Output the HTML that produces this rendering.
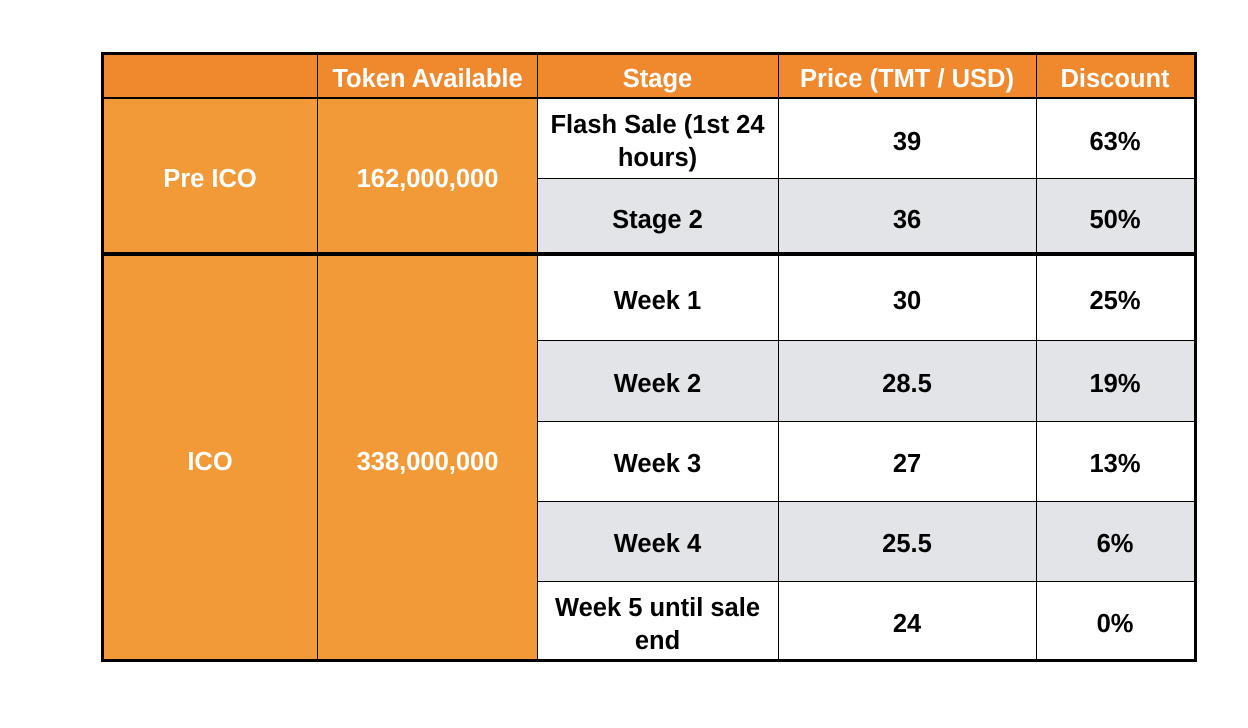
<!DOCTYPE html>
<html><head><meta charset="utf-8"><style>
body{margin:0;width:1248px;height:728px;background:#fff;position:relative;overflow:hidden;font-family:"Liberation Sans",Arial,sans-serif;font-weight:bold;font-size:25.5px}
.c{position:absolute;display:flex;align-items:center;justify-content:center;text-align:center;line-height:33px;color:#000;box-sizing:border-box;padding-top:7px}
.h{background:#F0892D;color:#fff}
.o{background:#F39A38;color:#fff}
.g{background:#E3E4E8}
.w{background:#fff}
.l{position:absolute;background:#000}
</style></head><body>
<div>
<div class="c h" style="left:102px;top:53px;width:216px;height:45px"></div>
<div class="c h" style="left:318px;top:53px;width:219px;height:45px">Token Available</div>
<div class="c h" style="left:537px;top:53px;width:241px;height:45px">Stage</div>
<div class="c h" style="left:778px;top:53px;width:258px;height:45px">Price (TMT / USD)</div>
<div class="c h" style="left:1036px;top:53px;width:158px;height:45px">Discount</div>
<div class="c o" style="left:102px;top:98px;width:216px;height:156px">Pre ICO</div>
<div class="c o" style="left:318px;top:98px;width:219px;height:156px">162,000,000</div>
<div class="c w" style="left:537px;top:98px;width:241px;height:81px">Flash Sale (1st 24<br>hours)</div>
<div class="c w" style="left:778px;top:98px;width:258px;height:81px">39</div>
<div class="c w" style="left:1036px;top:98px;width:158px;height:81px">63%</div>
<div class="c g" style="left:537px;top:179px;width:241px;height:75px">Stage 2</div>
<div class="c g" style="left:778px;top:179px;width:258px;height:75px">36</div>
<div class="c g" style="left:1036px;top:179px;width:158px;height:75px">50%</div>
<div class="c o" style="left:102px;top:256px;width:216px;height:405px">ICO</div>
<div class="c o" style="left:318px;top:256px;width:219px;height:405px">338,000,000</div>
<div class="c w" style="left:537px;top:256px;width:241px;height:84px">Week 1</div>
<div class="c w" style="left:778px;top:256px;width:258px;height:84px">30</div>
<div class="c w" style="left:1036px;top:256px;width:158px;height:84px">25%</div>
<div class="c g" style="left:537px;top:340px;width:241px;height:81px">Week 2</div>
<div class="c g" style="left:778px;top:340px;width:258px;height:81px">28.5</div>
<div class="c g" style="left:1036px;top:340px;width:158px;height:81px">19%</div>
<div class="c w" style="left:537px;top:421px;width:241px;height:80px">Week 3</div>
<div class="c w" style="left:778px;top:421px;width:258px;height:80px">27</div>
<div class="c w" style="left:1036px;top:421px;width:158px;height:80px">13%</div>
<div class="c g" style="left:537px;top:501px;width:241px;height:80px">Week 4</div>
<div class="c g" style="left:778px;top:501px;width:258px;height:80px">25.5</div>
<div class="c g" style="left:1036px;top:501px;width:158px;height:80px">6%</div>
<div class="c w" style="left:537px;top:581px;width:241px;height:80px">Week 5 until sale<br>end</div>
<div class="c w" style="left:778px;top:581px;width:258px;height:80px">24</div>
<div class="c w" style="left:1036px;top:581px;width:158px;height:80px">0%</div>
<div class="l" style="left:317px;top:53px;width:1px;height:608px"></div>
<div class="l" style="left:537px;top:53px;width:1px;height:608px"></div>
<div class="l" style="left:778px;top:53px;width:1px;height:608px"></div>
<div class="l" style="left:1036px;top:53px;width:1px;height:608px"></div>
<div class="l" style="left:102px;top:97px;width:1092px;height:2px"></div>
<div class="l" style="left:537px;top:178px;width:657px;height:1px"></div>
<div class="l" style="left:102px;top:252px;width:1092px;height:4px"></div>
<div class="l" style="left:537px;top:340px;width:657px;height:1px"></div>
<div class="l" style="left:537px;top:421px;width:657px;height:1px"></div>
<div class="l" style="left:537px;top:501px;width:657px;height:1px"></div>
<div class="l" style="left:537px;top:581px;width:657px;height:1px"></div>
<div style="position:absolute;left:101px;top:52px;width:1090px;height:604px;border:3px solid #000"></div>
</div>
</body></html>
